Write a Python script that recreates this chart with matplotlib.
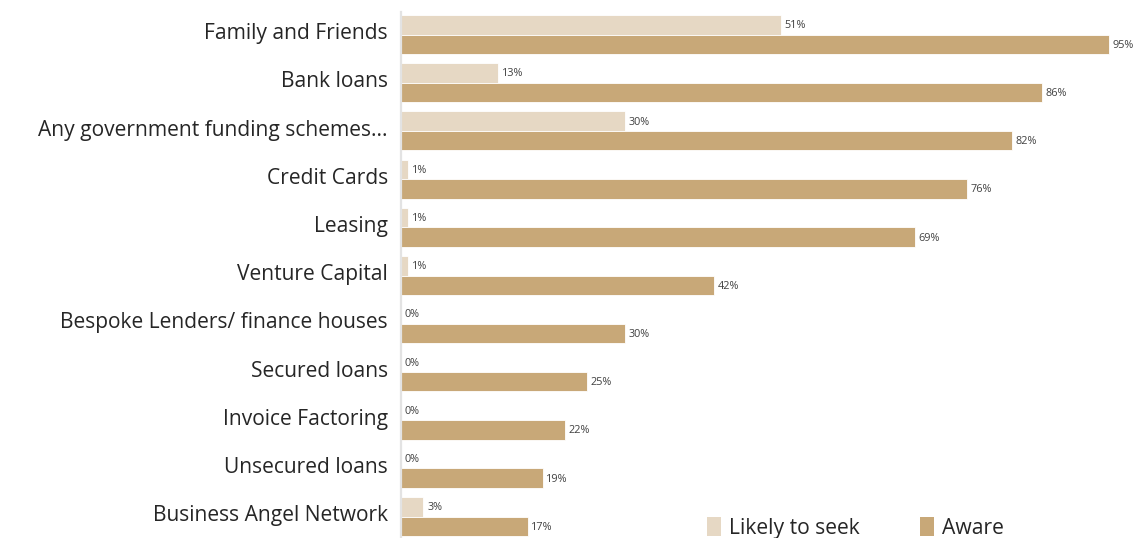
import matplotlib
matplotlib.use("Agg")
import matplotlib.pyplot as plt
from matplotlib.patches import Patch
import numpy as np

categories = [
    "Family and Friends",
    "Bank loans",
    "Any government funding schemes...",
    "Credit Cards",
    "Leasing",
    "Venture Capital",
    "Bespoke Lenders/ finance houses",
    "Secured loans",
    "Invoice Factoring",
    "Unsecured loans",
    "Business Angel Network",
]
likely_to_seek = [51, 13, 30, 1, 1, 1, 0, 0, 0, 0, 3]
aware = [95, 86, 82, 76, 69, 42, 30, 25, 22, 19, 17]
series_names = ["Likely to seek", "Aware"]

LIGHT = "#E6D8C4"
DARK = "#C8A878"
TEXT = "#262626"
VALUE_TEXT = "#404040"

plt.rcParams["font.family"] = ["Open Sans", "DejaVu Sans"]

W, H = 1135, 538
fig = plt.figure(figsize=(W / 100, H / 100), dpi=100)

# axes placed in pixel terms
ax_left, ax_right = 401, 1135
ax_top, ax_bottom = 12, 538
ax = fig.add_axes([ax_left / W, 1 - ax_bottom / H,
                   (ax_right - ax_left) / W, (ax_bottom - ax_top) / H])

row_px = 48.2
first_center = 34.5
px_per_pct = 7.45
ax.set_xlim(0, (ax_right - ax_left) / px_per_pct)
ax.set_ylim((ax_bottom - first_center) / row_px, (ax_top - first_center) / row_px)

y = np.arange(len(categories))
bar_h = 19.5 / row_px
off = bar_h / 2

ax.barh(y - off, likely_to_seek, height=bar_h, color=LIGHT,
        edgecolor="white", linewidth=0.6, label=series_names[0])
ax.barh(y + off, aware, height=bar_h, color=DARK,
        edgecolor="white", linewidth=0.6, label=series_names[1])

pad = 0.5
for yi, v in zip(y, likely_to_seek):
    ax.text(v + pad, yi - off + 0.02, f"{v}%", va="center", ha="left",
            fontsize=7.8, color=VALUE_TEXT, clip_on=False)
for yi, v in zip(y, aware):
    ax.text(v + pad, yi + off + 0.02, f"{v}%", va="center", ha="left",
            fontsize=7.8, color=VALUE_TEXT, clip_on=False)

ax.set_yticks(y - 0.07)
ax.set_yticklabels(categories, fontsize=15.1, color=TEXT)
ax.tick_params(axis="y", length=0, pad=9.4)
ax.set_xticks([])

for s in ["top", "right", "bottom"]:
    ax.spines[s].set_visible(False)
ax.spines["left"].set_color("#E3E3E3")
ax.spines["left"].set_linewidth(1.6)

handles = [Patch(facecolor=LIGHT, edgecolor="none"),
           Patch(facecolor=DARK, edgecolor="none")]
fig.legend(handles, series_names, ncol=2, frameon=False,
           loc="center left", bbox_to_anchor=(707 / W, 1 - 528 / H),
           fontsize=15.2, handlelength=0.65, handleheight=1.0,
           handletextpad=0.4, columnspacing=2.85, labelcolor=TEXT,
           borderaxespad=0, borderpad=0)

fig.savefig("out.png", dpi=100, facecolor="white")
